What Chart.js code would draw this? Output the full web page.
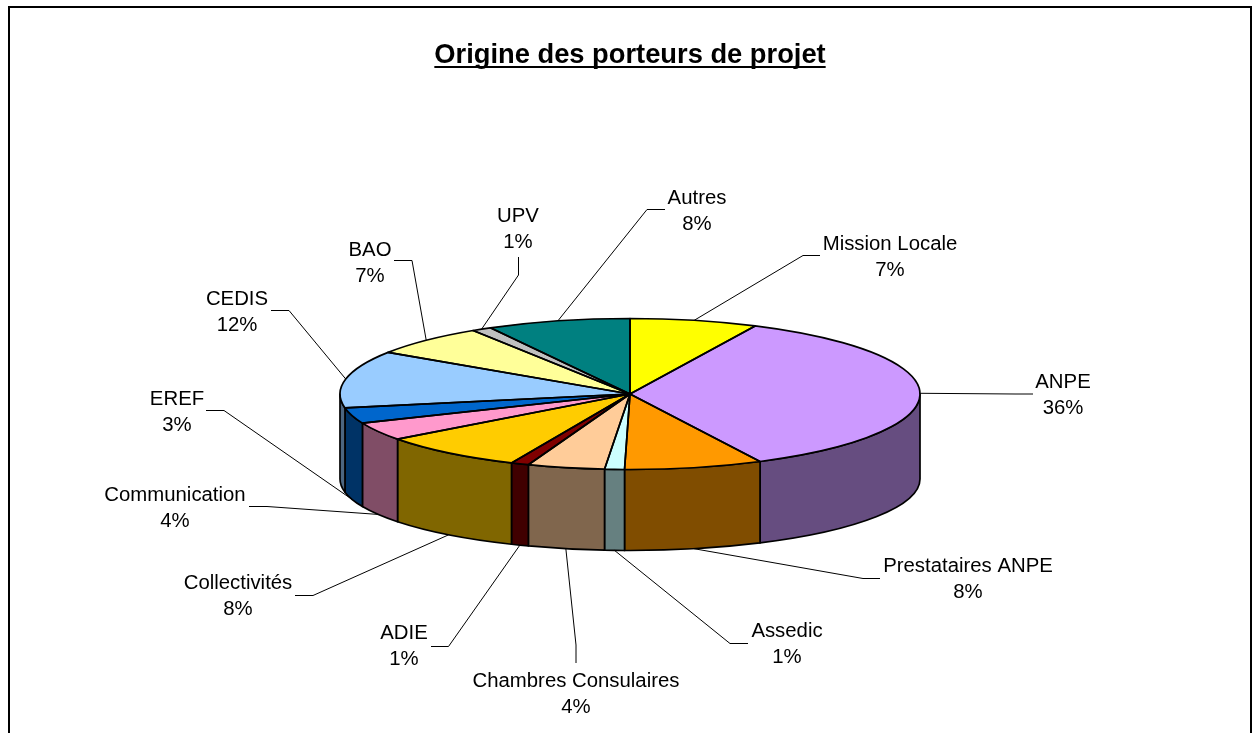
<!DOCTYPE html>
<html>
<head>
<meta charset="utf-8">
<title>Origine des porteurs de projet</title>
<style>
html,body{margin:0;padding:0;background:#fff;}
canvas{display:block;}
</style>
<script src="https://cdn.jsdelivr.net/npm/chart.js@4/dist/chart.umd.js"></script>
</head>
<body>
<canvas id="c" width="1252" height="733"></canvas>
<script>
const chartTitle = "Origine des porteurs de projet";
const categories = ["Mission Locale","ANPE","Prestataires ANPE","Assedic","Chambres Consulaires","ADIE","Collectivités","Communication","EREF","CEDIS","BAO","UPV","Autres"];
const shares = [7.1,35.5,7.7,1.1,4.3,1.0,8.1,3.9,3.35,12.25,6.6,1.1,8.0];
const sliceColors = ["#FFFF00","#CC99FF","#FF9900","#CCFFFF","#FFCC99","#800000","#FFCC00","#FF99CC","#0066CC","#99CCFF","#FFFF99","#C0C0C0","#008080"];

// Label layout (annotation placement only): label centre x, first baseline y
const labelCentreX = [890,1063,968,787,576,404,238,175,177,237,370,518,697];
const labelBaseY   = [250,388,572,637,687,639,589,501,405,305,256,222,204];
// Leader line: the end next to the label, then the elbow
const leaderStart = [[820,255.5],[1033,394],[880,578.5],[748,643.5],[576,663],[431,646.5],[295,595.5],[249,506.5],[206,410.5],[271,310.5],[394,260.5],[518.5,257],[665,209.5]];
const leaderElbow = [[803,255.5],[1015,394],[863,578.5],[730,643.5],[576,645],[448.5,646.5],[313,595.5],[267,506.5],[224,410.5],[289,310.5],[412,260.5],[518.5,275],[647,209.5]];

const FONT = "'Liberation Sans', Arial, sans-serif";
const TITLE_SIZE = 27.3;
const TILT_TOP = 75.5 / 290;    // top face ellipse ratio
const TILT_BOTTOM = 71.5 / 290; // lower rim ellipse ratio
const DEPTH = 85;               // drop of the lower rim centre
const OUTLINE = 1.7;

function shade(hex){
  const n = parseInt(hex.slice(1),16);
  const f = c => Math.round(c*0.5);
  return "rgb("+f(n>>16&255)+","+f(n>>8&255)+","+f(n&255)+")";
}

const pie3d = {
  id:"pie3d",
  beforeDraw(chart){
    const c = chart.ctx;
    c.save();
    c.fillStyle="#fff"; c.fillRect(0,0,chart.width,chart.height);
    c.fillStyle="#000";
    c.fillRect(8,6,1244,2);
    c.fillRect(8,6,2,727);
    c.fillRect(1250,6,2,727);
    c.restore();
  },
  beforeDatasetsDraw(chart){
    const c = chart.ctx, arcs = chart.getDatasetMeta(0).data;
    const cx = arcs[0].x, cy = arcs[0].y;
    // side wall of every slice that faces the viewer
    arcs.forEach((a,i)=>{
      const s = Math.max(a.startAngle,0), e = Math.min(a.endAngle,Math.PI);
      if(s>=e) return;
      const R = a.outerRadius;
      c.beginPath();
      c.ellipse(cx,cy,R,R*TILT_TOP,0,s,e,false);
      c.ellipse(cx,cy+DEPTH,R,R*TILT_BOTTOM,0,e,s,true);
      c.closePath();
      c.fillStyle = shade(sliceColors[i]);
      c.fill();
      c.strokeStyle="#000"; c.lineWidth=OUTLINE; c.lineJoin="round";
      c.stroke();
    });
    // flatten the library's pie into the top face
    c.save();
    c.translate(cx,cy); c.scale(1,TILT_TOP); c.translate(-cx,-cy);
  },
  afterDatasetsDraw(chart){
    const c = chart.ctx, arcs = chart.getDatasetMeta(0).data;
    c.restore();
    const cx = arcs[0].x, cy = arcs[0].y;
    c.save();
    c.strokeStyle="#000"; c.lineWidth=OUTLINE; c.lineJoin="round";
    arcs.forEach(a=>{
      const R = a.outerRadius;
      c.beginPath();
      c.moveTo(cx,cy);
      c.ellipse(cx,cy,R,R*TILT_TOP,0,a.startAngle,a.endAngle,false);
      c.closePath();
      c.stroke();
    });
    // leader lines and labels
    c.lineWidth=1; c.lineJoin="miter";
    c.fillStyle="#000";
    c.font="20.35px "+FONT;
    c.textAlign="center"; c.textBaseline="alphabetic";
    arcs.forEach((a,i)=>{
      const mid=(a.startAngle+a.endAngle)/2, R=a.outerRadius;
      const front = Math.sin(mid)>0.02;
      const px = cx+R*Math.cos(mid);
      const py = front ? cy+DEPTH+R*TILT_BOTTOM*Math.sin(mid) : cy+R*TILT_TOP*Math.sin(mid);
      c.beginPath();
      c.moveTo(leaderStart[i][0],leaderStart[i][1]);
      c.lineTo(leaderElbow[i][0],leaderElbow[i][1]);
      c.lineTo(px,py);
      c.stroke();
      c.fillText(categories[i],labelCentreX[i],labelBaseY[i]);
      c.fillText(Math.round(shares[i])+"%",labelCentreX[i],labelBaseY[i]+25.5);
    });
    // title underline
    c.font="bold "+TITLE_SIZE+"px "+FONT;
    const w=c.measureText(chartTitle).width;
    c.fillRect(630-w/2,66,w,2);
    c.restore();
  }
};

new Chart(document.getElementById("c"),{
  type:"pie",
  data:{labels:categories,datasets:[{data:shares,backgroundColor:sliceColors,borderWidth:0,hoverOffset:0,offset:0}]},
  plugins:[pie3d],
  options:{
    responsive:false,
    animation:false,
    events:[],
    layout:{padding:{left:340,right:332,top:0,bottom:49}},
    plugins:{
      legend:{display:false},
      tooltip:{enabled:false},
      title:{
        display:true,text:chartTitle,color:"#000",
        font:{family:FONT,size:TITLE_SIZE,weight:"bold"},
        padding:{top:39.5,bottom:31.74}
      }
    }
  }
});
</script>
</body>
</html>
